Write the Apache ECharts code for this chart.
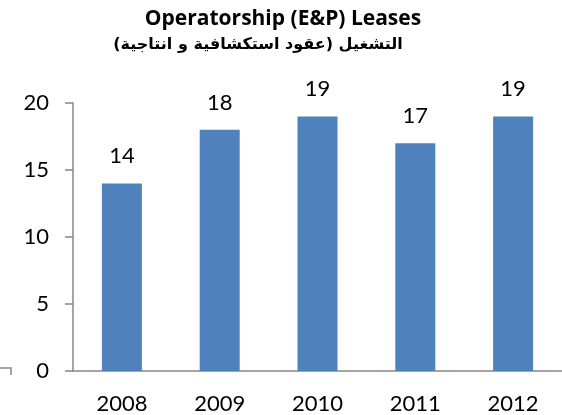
<!DOCTYPE html>
<html>
<head>
<meta charset="utf-8">
<script src="https://cdn.jsdelivr.net/npm/echarts@6/dist/echarts.min.js"></script>
<style>
  html, body { margin: 0; padding: 0; background: #fff; }
  #main { width: 562px; height: 415px; }
</style>
</head>
<body>
<div id="main"></div>
<script>
// data
var years = ['2008', '2009', '2010', '2011', '2012']
var leases = [14, 18, 19, 17, 19]
var yTicks = [0, 5, 10, 15, 20]

var titleEn = 'Operatorship (E&P) Leases'
var titleAr = 'التشغيل (عقود استكشافية و انتاجية)\u200F'

var myChart = echarts.init(document.getElementById('main'))
var axisGray = '#868686'
var numFont = 'Lato, "Open Sans", sans-serif'

var option = {
  animation: false,
  title: [
    {
      text: titleEn,
      left: 278,
      top: 4,
      textAlign: 'center',
      textStyle: { fontFamily: '"Open Sans", sans-serif', fontWeight: 'bold', fontSize: 21, color: '#000' }
    },
    {
      text: titleAr,
      left: 253,
      top: 32,
      textAlign: 'center',
      textStyle: { fontFamily: '"DejaVu Sans", sans-serif', fontWeight: 'bold', fontSize: 16, color: '#000' }
    }
  ],
  grid: { left: 73, top: 103, width: 500, height: 268 },
  xAxis: {
    type: 'category',
    data: years,
    axisLine: { lineStyle: { color: axisGray, width: 1.5 } },
    axisTick: { length: 8, lineStyle: { color: axisGray, width: 1.5 } },
    axisLabel: { color: '#000', fontSize: 22, fontFamily: numFont, margin: 22 }
  },
  yAxis: {
    type: 'value',
    min: yTicks[0],
    max: yTicks[yTicks.length - 1],
    interval: yTicks[1] - yTicks[0],
    axisLine: { show: true, lineStyle: { color: axisGray, width: 1.5 } },
    axisTick: { show: true, length: 8, lineStyle: { color: axisGray, width: 1.5 } },
    splitLine: { show: false },
    axisLabel: { color: '#000', fontSize: 22, fontFamily: numFont, margin: 24 }
  },
  series: [
    {
      type: 'bar',
      data: leases,
      barWidth: 40,
      itemStyle: { color: '#4F81BD' },
      label: {
        show: true,
        position: 'top',
        distance: 16,
        color: '#000',
        fontSize: 22,
        fontFamily: numFont
      }
    }
  ],
  graphic: [
    {
      type: 'polyline',
      shape: { points: [[0, 368], [11, 368], [11, 375]] },
      style: { stroke: axisGray, lineWidth: 1.5, fill: null }
    }
  ]
}
myChart.setOption(option, true)
</script>
</body>
</html>
